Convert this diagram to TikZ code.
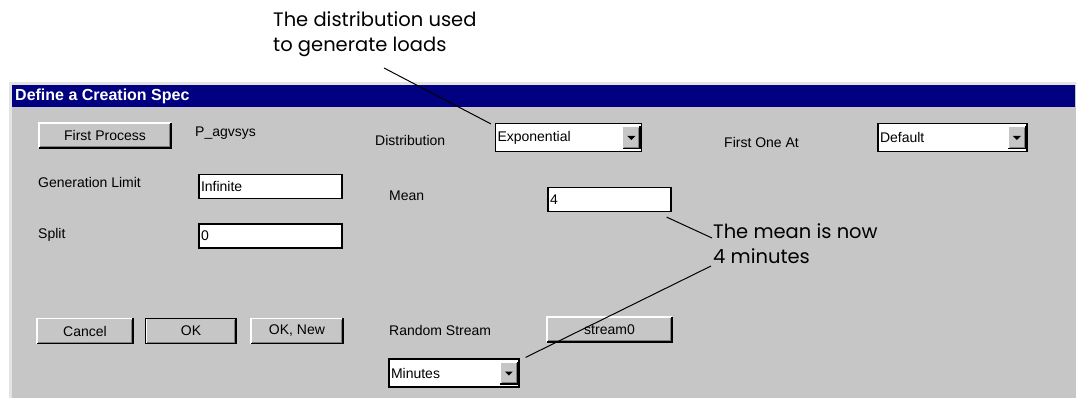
\documentclass[tikz,border=0pt]{standalone}
\usepackage{fontspec}
\setmainfont{Liberation Sans}
\newfontfamily\notefont{Poppins}
\usetikzlibrary{positioning}
\definecolor{dlggray}{RGB}{198,198,198}
\definecolor{dlglight}{RGB}{228,228,228}
\definecolor{titleblue}{RGB}{0,0,128}
\definecolor{btnshadow}{RGB}{128,128,128}

\begin{document}
\begin{tikzpicture}[
  x=1pt, y=-1pt,
  uifont/.style={font=\fontsize{14}{16}\selectfont},
  lbl/.style={uifont, anchor=west, inner sep=0pt},
  btn/.style={uifont, fill=dlggray, minimum width=#1, minimum height=25pt, inner sep=0pt},
  field/.style={uifont, draw=black, line width=1.2pt, fill=white, text width=#1,
                align=left, minimum height=24pt, inner xsep=2pt, inner ysep=0pt},
  combo/.style={field=#1, minimum height=28pt},
  drop/.style={fill=dlggray, minimum width=17pt, minimum height=22pt, inner sep=0pt},
  note/.style={font=\notefont\fontsize{19.5}{25}\selectfont, align=left,
               inner sep=0pt, anchor=north west},
  pointer/.style={line width=1pt, black}
]
\useasboundingbox (0,0) rectangle (1076,398);

% Dialog frame
\fill[dlglight] (9,82) rectangle (1076,398);
\fill[dlggray] (12,85) rectangle (1076,398);
\fill[titleblue] (12,85) rectangle (1075,107);
\node[anchor=west, text=white, inner sep=0pt, font=\bfseries\fontsize{16}{18}\selectfont]
  (title) at (15,96) {Define a Creation Spec};

% Labels
\node[lbl] (agv)   at (195,133) {P\_agvsys};
\node[lbl] (limlbl) at (38,182) {Generation Limit};
\node[lbl] (splbl) at (38,235) {Split};
\node[lbl] (dislbl) at (375,140) {Distribution};
\node[lbl] (mnlbl) at (389,196) {Mean};
\node[lbl] (onelbl) at (724,142) {First One At};
\node[lbl] (rslbl) at (389,330) {Random Stream};

% Buttons
\node[btn=132pt] (first)  at (105,135.5) {First Process};
\node[btn=96pt]  (cancel) at (85,331)    {Cancel};
\node[btn=90pt]  (ok)     at (191,331)   {OK};
\node[btn=92pt]  (oknew)  at (297,331)   {OK, New};
\node[btn=125pt] (stream) at (609.5,329.5) {stream0};

% Text fields
\node[field=139pt] (limit) at (270.5,186.5) {Infinite};
\node[field=139pt] (split) at (270.5,236)   {0};
\node[field=119pt] (mean)  at (609.5,199.5) {4};

% Combo boxes
\node[combo=142pt] (dist) at (568.5,137.5) {Exponential};
\node[combo=145pt] (one)  at (952.5,137.5) {Default};
\node[combo=126pt] (mins) at (454,373)     {Minutes};
\node[drop, anchor=east] (distdrop) at ([xshift=-2pt]dist.east) {};
\node[drop, anchor=east] (onedrop)  at ([xshift=-2pt]one.east) {};
\node[drop, anchor=east] (mindrop)  at ([xshift=-2pt]mins.east) {};

% Raised bevels
\foreach \b in {first, cancel, ok, oknew, stream, distdrop, onedrop, mindrop} {
  \draw[white, line width=1.5pt] (\b.south west) |- (\b.north east);
  \draw[btnshadow, line width=1pt] ([shift={(1.5,-1.5)}]\b.south west) -| ([shift={(-1.5,1.5)}]\b.north east);
  \draw[black, line width=1.5pt] (\b.south west) -| (\b.north east);
}
\draw[black, line width=1pt] (ok.south west) rectangle (ok.north east);

% Drop arrows
\foreach \d in {distdrop, onedrop, mindrop}
  \fill ([shift={(-4,-1.5)}]\d.center) -- ++(8,0) -- ++(-4,4) -- cycle;

% Annotations
\node[note] (distnote) at (273,11) {The distribution used\\to generate loads};
\node[note] (meannote) at (713,223) {The mean is now\\4 minutes};
\coordinate (disttail) at (384,68);

\draw[pointer] (disttail) -- ([shift={(-4,1)}]dist.north west);
\draw[pointer] ([shift={(-5,5)}]mean.south east) -- ([shift={(-1,15)}]meannote.north west);
\draw[pointer] ([shift={(-2,43)}]meannote.north west) -- ([shift={(6,-1)}]mins.north east);

\end{tikzpicture}
\end{document}
